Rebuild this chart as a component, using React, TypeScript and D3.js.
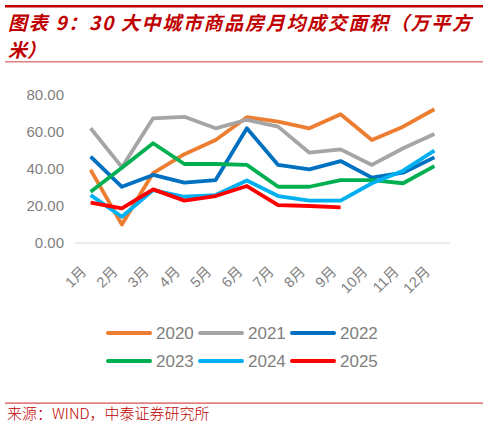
import * as d3 from 'd3';
import { useRef, useEffect } from 'react';

const months = ['1月', '2月', '3月', '4月', '5月', '6月', '7月', '8月', '9月', '10月', '11月', '12月'];
const years = ['2020', '2021', '2022', '2023', '2024', '2025'];
const colors = ['#ED7D31', '#A5A5A5', '#0070C0', '#00B050', '#00B0F0', '#FF0000'];

const v2020 = [39.5, 10, 37.8, 48, 55.7, 68, 65.6, 62, 69.6, 55.7, 62.9, 72.3];
const v2021 = [62, 41, 67.4, 68.2, 62, 66.6, 62.9, 48.8, 50.6, 42.2, 51.2, 58.9];
const v2022 = [46.7, 30.4, 36.8, 32.6, 34, 62, 42.2, 39.8, 44.3, 35.3, 38, 46.3];
const v2023 = [27.7, 40.7, 53.9, 42.7, 42.7, 42.2, 30.4, 30.4, 34, 34, 32.3, 41.6];
const v2024 = [25.9, 14.2, 28.6, 25, 25.9, 33.8, 25.4, 22.9, 22.9, 32.3, 39.1, 49.9];
const v2025 = [21.8, 18.7, 29, 22.9, 25.4, 30.8, 20.5, 20, 19.3];

const yTicks = [0, 20, 40, 60, 80];

const seriesValues = [v2020, v2021, v2022, v2023, v2024, v2025];

const W = 488;
const H = 427;

const App = () => {
  const ref = useRef<SVGSVGElement>(null);

  useEffect(() => {
    if (!ref.current) return;
    const svg = d3.select(ref.current);
    svg.selectAll('*').remove();

    const red = '#C00000';
    const grey = '#7F7F7F';

    // header
    svg.append('rect').attr('x', 5).attr('y', 5).attr('width', 478).attr('height', 2.5).attr('fill', red);
    svg.append('text')
      .attr('x', 8).attr('y', 30)
      .attr('font-family', '"Noto Sans CJK SC"')
      .attr('font-size', 19)
      .attr('font-weight', 'bold')
      .attr('font-style', 'italic')
      .attr('fill', red)
      .attr('textLength', 463)
      .attr('lengthAdjust', 'spacing')
      .text('图表 9：30 大中城市商品房月均成交面积（万平方');
    svg.append('text')
      .attr('x', 8).attr('y', 57)
      .attr('font-family', '"Noto Sans CJK SC"')
      .attr('font-size', 19)
      .attr('font-weight', 'bold')
      .attr('font-style', 'italic')
      .attr('fill', red)
      .text('米）');
    svg.append('rect').attr('x', 5).attr('y', 61).attr('width', 478).attr('height', 1.5).attr('fill', '#E08080');

    // scales
    const x = d3.scaleBand<string>().domain(months).range([75, 450]);
    const y = d3.scaleLinear().domain([0, 80]).range([243, 95]);
    const cx = (m: string) => (x(m) ?? 0) + x.bandwidth() / 2;

    // y labels
    svg.append('g').selectAll('text').data(yTicks).join('text')
      .attr('x', 64)
      .attr('y', d => y(d))
      .attr('dy', '0.35em')
      .attr('text-anchor', 'end')
      .attr('font-family', 'Arial, "Liberation Sans", sans-serif')
      .attr('font-size', 15)
      .attr('fill', grey)
      .text(d => d.toFixed(2));

    // baseline
    svg.append('line')
      .attr('x1', 75).attr('x2', 450)
      .attr('y1', y(0)).attr('y2', y(0))
      .attr('stroke', '#D9D9D9').attr('stroke-width', 1.2);

    // x labels
    svg.append('g').selectAll('text').data(months).join('text')
      .attr('transform', d => `translate(${cx(d) - 7},${269}) rotate(-45)`)
      .attr('text-anchor', 'end')
      .attr('dy', '0.35em')
      .attr('font-family', 'Arial, "Liberation Sans", "Noto Sans CJK SC", sans-serif')
      .attr('font-size', 14.5)
      .attr('fill', grey)
      .text(d => d);

    // lines
    const line = d3.line<number>()
      .x((_, i) => cx(months[i]))
      .y(d => y(d));

    svg.append('g').selectAll('path').data(seriesValues).join('path')
      .attr('d', d => line(d))
      .attr('fill', 'none')
      .attr('stroke', (_, i) => colors[i])
      .attr('stroke-width', 3.8)
      .attr('stroke-linejoin', 'round');

    // legend
    const legend = svg.append('g').selectAll('g').data(years).join('g')
      .attr('transform', (_, i) => `translate(${108 + (i % 3) * 92},${i < 3 ? 333 : 361})`);
    legend.append('line')
      .attr('x1', 0).attr('x2', 42)
      .attr('stroke', (_, i) => colors[i])
      .attr('stroke-width', 4)
      .attr('stroke-linecap', 'round');
    legend.append('text')
      .attr('x', 48)
      .attr('dy', '0.36em')
      .attr('font-family', 'Arial, "Liberation Sans", sans-serif')
      .attr('font-size', 17)
      .attr('fill', grey)
      .text(d => d);

    // footer
    svg.append('rect').attr('x', 5).attr('y', 402.5).attr('width', 478).attr('height', 1.2).attr('fill', '#D84848');
    svg.append('text')
      .attr('x', 7).attr('y', 419)
      .attr('font-family', '"Noto Sans CJK SC"')
      .attr('font-size', 15)
      .attr('font-weight', 300)
      .attr('fill', red)
      .text('来源：WIND，中泰证券研究所');
  }, []);

  return (
    <svg
      ref={ref}
      width={W}
      height={H}
      style={{ position: 'absolute', left: 0, top: 0, background: '#fff' }}
    />
  );
};

export default App;
